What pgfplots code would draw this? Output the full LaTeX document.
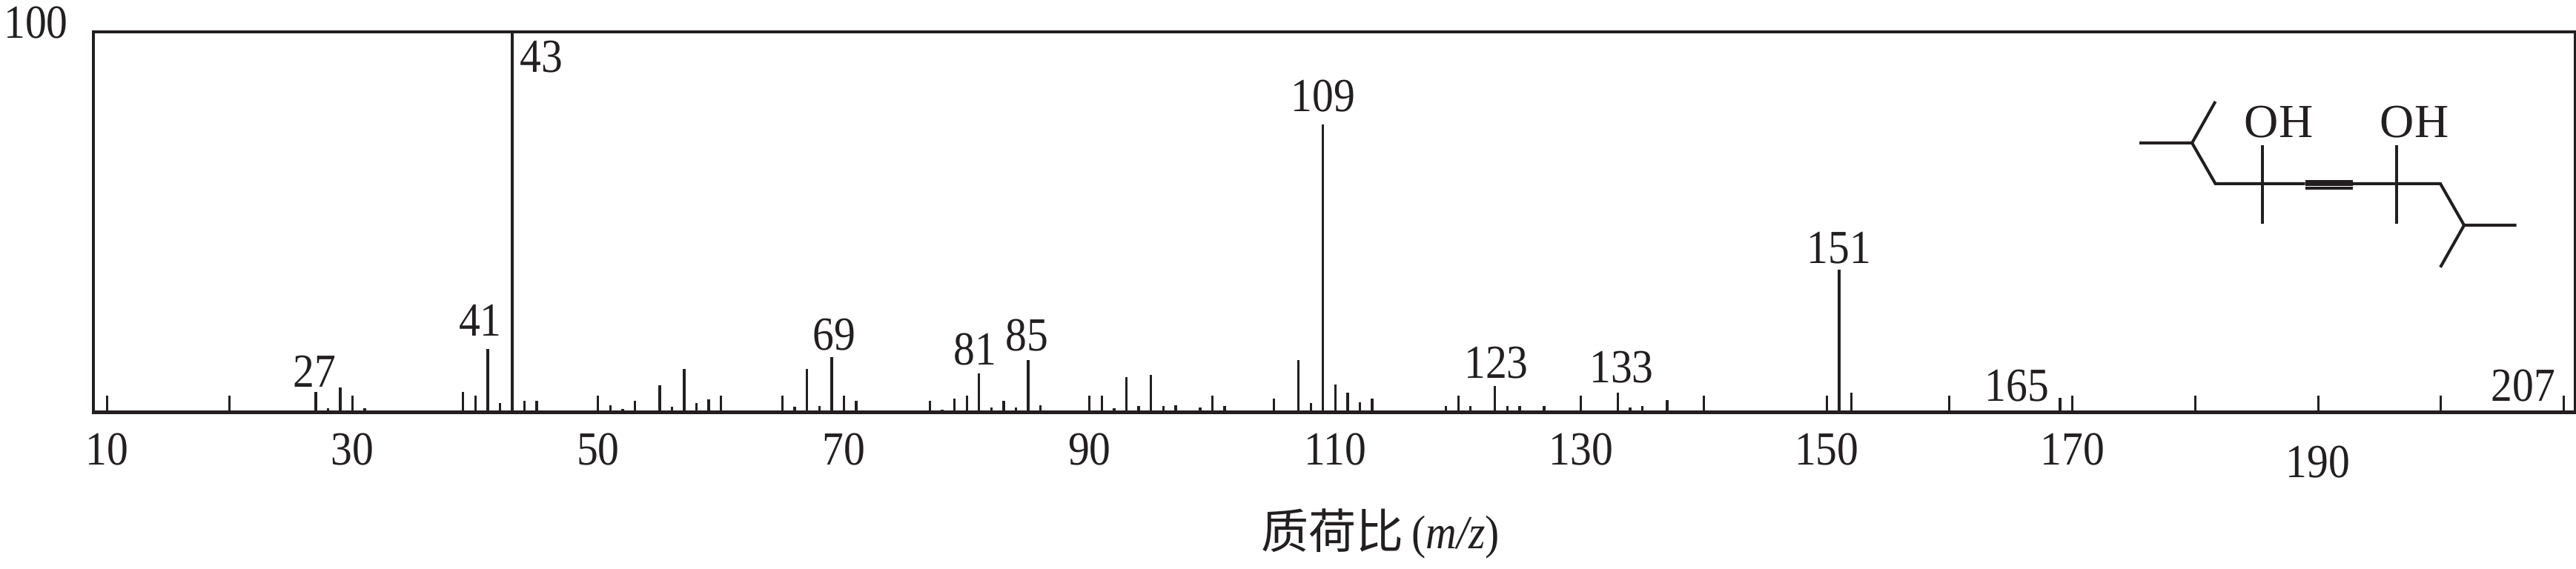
\documentclass[border=0pt]{standalone}
\usepackage{fontspec}
\setmainfont[FakeStretch=0.9]{Liberation Serif}
\newfontfamily\plainserif{Liberation Serif}
\newfontfamily\cjk{Noto Sans CJK SC}
\usepackage{pgfplots}
\pgfplotsset{compat=1.18}
\usepackage{pgfplotstable}
\definecolor{ink}{HTML}{231F20}

% mass spectrum peaks: m/z, relative abundance
\pgfplotstableread{
mz int
27 5.4
28 1.2
29 6.5
31 1.2
39 5.4
41 16.6
42 2.5
43 100
44 3.0
45 3.0
51 1.9
52 0.9
53 3.0
55 7.1
56 1.5
57 11.4
58 2.5
59 3.4
65 4.5
66 1.5
67 11.4
68 1.7
69 14.5
71 3.0
77 3.0
78 0.7
79 3.6
81 10.2
82 1.3
83 3.0
84 1.3
85 13.7
86 1.9
91 4.5
92 1.1
93 9.3
94 1.7
95 9.8
96 1.7
97 1.9
99 1.3
101 1.7
105 3.6
107 13.7
108 2.5
109 75.7
110 7.3
111 5.2
112 2.7
113 3.6
119 1.7
121 1.7
123 6.9
124 1.7
125 1.7
127 1.7
133 5.2
134 1.3
135 1.7
137 3.2
151 37.5
152 5.2
169 3.8
}\peaks

\begin{document}
\fontsize{16}{18}\selectfont
\begin{tikzpicture}[
    lab/.style={anchor=south, inner sep=0pt, text=ink},
    px/.style={x=0.25pt, y=-0.25pt, shift={(-31.375pt,139.175pt)}},
]
\useasboundingbox (-31.375pt,-52.825pt) rectangle (837.375pt,139.175pt);
\begin{axis}[
    scale only axis,
    width=837pt, height=128.4pt,
    xmin=8.88, xmax=210.9,
    ymin=0, ymax=100,
    xtick={10,30,50,70,90,110,130,150,170},
    minor xtick={20,40,60,80,100,120,140,160,180,190,200,210},
    extra x ticks={190},
    extra x tick style={tick label style={yshift=-4.2pt}},
    ytick={100},
    xtick pos=bottom, ytick pos=left,
    tick align=inside,
    major tick length=5.75pt, minor tick length=5.75pt,
    xtick style={ink, line width=0.75pt},
    ytick style={draw=none},
    xticklabel style={inner sep=0pt, text=ink},
    yticklabel style={inner sep=0pt, text=ink, yshift=3.2pt},
    tick label style={/pgf/number format/assume math mode=true},
    xticklabel shift=6.9pt,
    yticklabel shift=8.25pt,
    axis line style={ink, line width=1pt},
    clip=false,
    xlabel={{\cjk 质荷比}\,(\textit{m/z})},
    xlabel style={at={(0.5187,0)}, anchor=north, yshift=-32.2pt, inner sep=0pt, text=ink},
]
\addplot+[ycomb, mark=none, draw=ink, line width=0.85pt] table[x=mz, y=int] {\peaks};
\draw[ink, line width=1.2pt] (rel axis cs:0,0) -- (rel axis cs:1,0);
\node[lab] at (axis cs:26.9,6.5) {27};
\node[lab] at (axis cs:40.4,19.9) {41};
\node[lab] at (axis cs:45.4,89.2) {43};
\node[lab] at (axis cs:69.2,16.2) {69};
\node[lab] at (axis cs:80.7,12.3) {81};
\node[lab] at (axis cs:84.9,15.9) {85};
\node[lab] at (axis cs:109,78.8) {109};
\node[lab] at (axis cs:123.1,8.7) {123};
\node[lab] at (axis cs:133.3,7.6) {133};
\node[lab] at (axis cs:151,38.8) {151};
\node[lab] at (axis cs:165.5,2.6) {165};
\node[lab] at (axis cs:206.7,2.6) {207};
\end{axis}
% structure inset, coordinates in reference pixels
\begin{scope}[px, draw=ink, line width=1pt, line cap=butt, line join=miter]
\draw (2886,193) -- (2957,193) -- (2988.5,137);
\draw (2957,193) -- (2988.5,248) -- (3109.5,248);
\draw (3174,248) -- (3292,248) -- (3324,304) -- (3394.6,304);
\draw (3324,304) -- (3292,360.7);
\draw (3052,196) -- (3052,302);
\draw (3232.7,196) -- (3232.7,302);
\draw[line width=1.1pt] (3109.5,245) -- (3174,245);
\draw[line width=1.1pt] (3109.5,249) -- (3174,249);
\draw[line width=1.1pt] (3109.5,254) -- (3174,254);
\node[lab, font=\plainserif] at (3074,188) {OH};
\node[lab, font=\plainserif] at (3257,188) {OH};
\end{scope}
\end{tikzpicture}
\end{document}
